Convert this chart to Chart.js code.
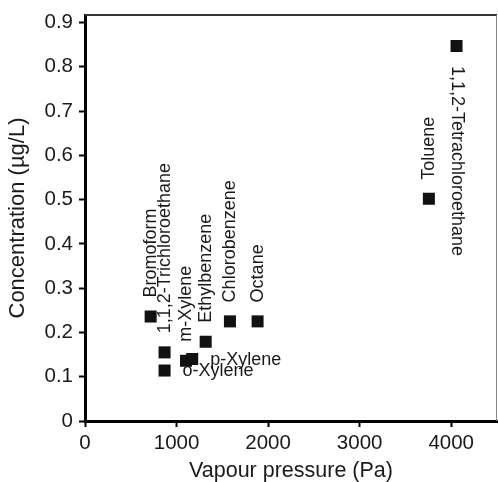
<!DOCTYPE html>
<html>
<head>
<meta charset="utf-8">
<script src="https://cdn.jsdelivr.net/npm/chart.js@4.4.1/dist/chart.umd.min.js"></script>
<style>
    html, body { margin: 0; padding: 0; background: #fff; overflow: hidden; }
</style>
</head>
<body>
<canvas id="vapourChart" width="498" height="482"></canvas>
<script>
// ---- data ----
const compounds = ['Bromoform', '1,1,2-Trichloroethane', 'o-Xylene', 'm-Xylene', 'p-Xylene',
    'Ethylbenzene', 'Chlorobenzene', 'Octane', 'Toluene', '1,1,2-Tetrachloroethane'];
const vapourPressure = [717, 869, 869, 1103, 1171, 1318, 1583, 1885, 3756, 4058];
const concentration = [0.236, 0.155, 0.114, 0.136, 0.140, 0.179, 0.225, 0.225, 0.502, 0.847];
const xTicks = [0, 1000, 2000, 3000, 4000];
const yTicks = [0, 0.1, 0.2, 0.3, 0.4, 0.5, 0.6, 0.7, 0.8, 0.9];

// where each name sits next to its marker
const labelSide = ['up', 'up', 'right', 'up', 'right', 'up', 'up', 'up', 'up', 'down'];

const FONT = '"Liberation Sans", Arial, sans-serif';
const INK = '#1a1a1a';

const pointLabels = {
    id: 'pointLabels',
    afterDatasetsDraw(chart) {
        const ctx = chart.ctx;
        const meta = chart.getDatasetMeta(0);
        ctx.save();
        ctx.fillStyle = INK;
        ctx.font = '18px ' + FONT;
        ctx.textAlign = 'left';
        ctx.textBaseline = 'middle';
        meta.data.forEach((pt, i) => {
            ctx.save();
            if (labelSide[i] === 'up') {
                ctx.translate(pt.x, pt.y - 19);
                ctx.rotate(-Math.PI / 2);
            } else if (labelSide[i] === 'down') {
                ctx.translate(pt.x, pt.y + 20);
                ctx.rotate(Math.PI / 2);
            } else {
                ctx.translate(pt.x + 18, pt.y + 1);
            }
            ctx.fillText(compounds[i], 0, 0);
            ctx.restore();
        });
        ctx.restore();
    }
};

const frameLines = {
    id: 'frameLines',
    afterDraw(chart) {
        const a = chart.chartArea;
        const ctx = chart.ctx;
        ctx.save();
        ctx.strokeStyle = '#333';
        ctx.lineWidth = 2;
        ctx.beginPath();
        ctx.moveTo(a.left, a.top);
        ctx.lineTo(a.right, a.top);
        ctx.stroke();
        ctx.strokeStyle = '#888';
        ctx.lineWidth = 1;
        ctx.beginPath();
        ctx.moveTo(a.right - 0.5, a.top);
        ctx.lineTo(a.right - 0.5, a.bottom);
        ctx.stroke();
        ctx.restore();
    }
};

new Chart(document.getElementById('vapourChart'), {
    type: 'scatter',
    data: {
        datasets: [{
            data: vapourPressure.map((v, i) => ({ x: v, y: concentration[i] })),
            pointStyle: 'rect',
            pointRadius: 8.5,
            pointHoverRadius: 8.5,
            backgroundColor: '#111',
            borderColor: '#111',
            borderWidth: 0
        }]
    },
    options: {
        responsive: false,
        animation: false,
        layout: { autoPadding: false, padding: { top: 15, right: 1, left: 0, bottom: 0 } },
        plugins: {
            legend: { display: false },
            tooltip: { enabled: false }
        },
        scales: {
            x: {
                type: 'linear',
                min: 0,
                max: 4500,
                afterFit: s => { s.height = 61; s.paddingLeft = 0; s.paddingRight = 0; },
                afterBuildTicks: s => { s.ticks = xTicks.map(v => ({ value: v })); },
                border: { display: true, width: 3, color: '#000' },
                grid: { drawOnChartArea: false, drawTicks: true, tickLength: 6, tickWidth: 2, tickColor: '#000' },
                ticks: {
                    color: INK,
                    font: { family: FONT, size: 20.5 },
                    padding: 4,
                    maxRotation: 0,
                    callback: v => String(v)
                },
                title: {
                    display: true,
                    text: 'Vapour pressure (Pa)',
                    color: INK,
                    font: { family: FONT, size: 21.5, lineHeight: 1 },
                    padding: { top: 0, bottom: 0 }
                }
            },
            y: {
                type: 'linear',
                min: 0,
                max: 0.917,
                afterFit: s => { s.width = 85; s.paddingTop = 0; s.paddingBottom = 0; },
                afterBuildTicks: s => { s.ticks = yTicks.map(v => ({ value: v })); },
                border: { display: true, width: 3, color: '#000' },
                grid: { drawOnChartArea: false, drawTicks: true, tickLength: 6, tickWidth: 2, tickColor: '#000' },
                ticks: {
                    color: INK,
                    font: { family: FONT, size: 20.5 },
                    padding: 6,
                    callback: v => (v === 0 ? '0' : v.toFixed(1))
                },
                title: {
                    display: true,
                    text: 'Concentration (µg/L)',
                    color: INK,
                    font: { family: FONT, size: 22, lineHeight: 1 },
                    padding: { top: 7, bottom: 0 }
                }
            }
        }
    },
    plugins: [pointLabels, frameLines]
});
</script>
</body>
</html>
